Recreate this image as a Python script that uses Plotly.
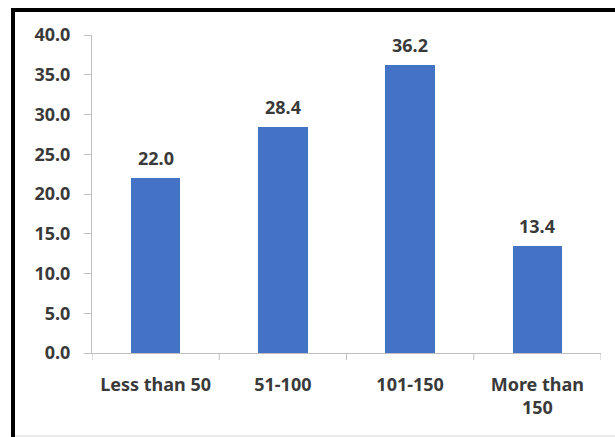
import plotly.graph_objects as go

categories = ["Less than 50", "51-100", "101-150", "More than<br>150"]
values = [22.0, 28.4, 36.2, 13.4]
y_ticks = [0, 5, 10, 15, 20, 25, 30, 35, 40]
y_tick_labels = [f"{v:.1f}" for v in y_ticks]

W, H = 615, 437
ml, mr, mt, mb = 92, 14, 35, 84
pw, ph = W - ml - mr, H - mt - mb

FONT = "Noto Sans, Open Sans, sans-serif"
TXT = "#3a3a3a"
AXIS = "#bfbfbf"

fig = go.Figure(go.Bar(
    x=list(range(len(categories))),
    y=values,
    marker=dict(color="#4472c4", line=dict(width=0)),
    width=0.39,
    hoverinfo="skip",
))

for i, v in enumerate(values):
    fig.add_annotation(x=i, y=v, text=f"<b>{v:.1f}</b>", showarrow=False,
                       yanchor="bottom", yshift=6,
                       font=dict(family=FONT, size=18, color=TXT))

fig.update_xaxes(
    range=[-0.5, len(categories) - 0.5],
    tickvals=list(range(len(categories))),
    ticktext=[f"<b>{c}</b>" for c in categories],
    tickfont=dict(family=FONT, size=18, color=TXT),
    showline=True, linecolor=AXIS, linewidth=1,
    ticks="", showgrid=False, zeroline=False,
    ticklabelstandoff=15,
)
fig.update_yaxes(
    range=[0, 40],
    tickvals=y_ticks,
    ticktext=[f"<b>{t}</b>" for t in y_tick_labels],
    tickfont=dict(family=FONT, size=18, color=TXT),
    showline=True, linecolor=AXIS, linewidth=1,
    ticks="outside", ticklen=7, tickcolor=AXIS,
    showgrid=False, zeroline=False,
    ticklabelstandoff=10,
)

# category boundary tick marks below the x axis
for b in range(len(categories) + 1):
    fig.add_shape(type="line", xref="x", yref="paper",
                  x0=b - 0.5, x1=b - 0.5, y0=0, y1=-7 / ph,
                  line=dict(color=AXIS, width=1))

# outer frame: heavy black on left and top, faint at the bottom
def px_x(p):
    return (p - ml) / pw

def px_y(p):
    return (H - mb - p) / ph

fig.add_shape(type="line", xref="paper", yref="paper",
              x0=px_x(13), x1=px_x(13), y0=px_y(8), y1=px_y(440),
              line=dict(color="black", width=4))
fig.add_shape(type="line", xref="paper", yref="paper",
              x0=px_x(11), x1=px_x(620), y0=px_y(10), y1=px_y(10),
              line=dict(color="black", width=4))
fig.add_shape(type="line", xref="paper", yref="paper",
              x0=px_x(15), x1=px_x(620), y0=px_y(436), y1=px_y(436),
              line=dict(color="#d9d9d9", width=1))

fig.update_layout(
    width=W, height=H,
    margin=dict(l=ml, r=mr, t=mt, b=mb),
    paper_bgcolor="white", plot_bgcolor="white",
    showlegend=False,
    bargap=0,
)

fig.write_html("out.html")
